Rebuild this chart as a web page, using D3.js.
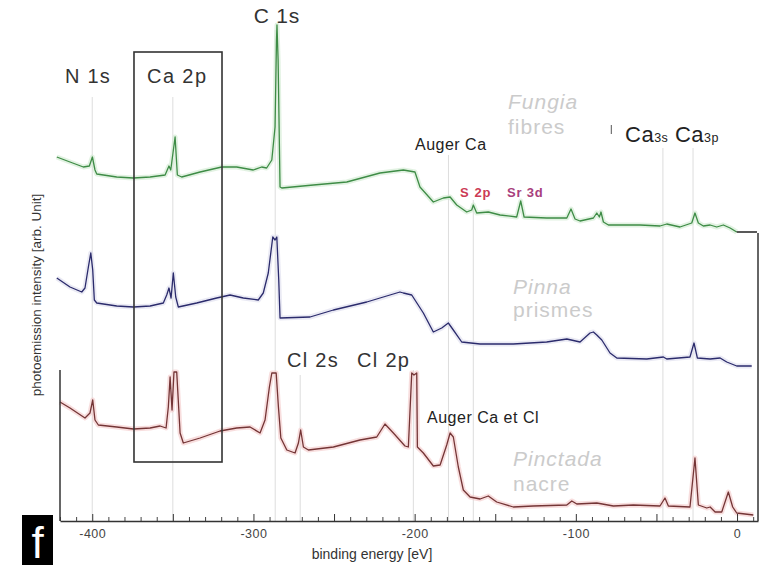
<!DOCTYPE html>
<html>
<head>
  <meta charset="UTF-8">
  <title>XPS survey spectra</title>
  <style>
    body { margin: 0; background: #fff; }
    svg { display: block; font-family: "Liberation Sans", Arial, sans-serif; }
  </style>
</head>
<body>
<svg></svg>

<script src="https://d3js.org/d3.v7.min.js"></script>
<script>

let width = 769, height = 568;

// spectra: [binding energy (eV), intensity (arb. units)]
const fungia = [[-422,364],[-413.8,359],[-405.5,354],[-401.8,355],[-399.9,364],[-398.3,351],[-397.2,347],
  [-384.8,344],[-374.5,343],[-364.1,344],[-354.8,346],[-352.4,355],[-351.3,351],[-348.6,384],[-347.2,346],
  [-344.5,344],[-333.1,349],[-319.7,354],[-310.4,354],[-300.1,351],[-294.9,354],[-291.8,353],[-288.6,361],
  [-286.6,394],[-285.7,481],[-285.4,496],[-284.7,461],[-283.5,334],[-282.4,333],[-262.8,336],[-242.1,339],
  [-221.5,348],[-207.0,351],[-199.8,349],[-196.7,334],[-188.4,319],[-182.2,323],[-178.0,324],[-173.9,316],
  [-167.7,309],[-164.6,311],[-163.6,316],[-161.5,308],[-154.3,309],[-147.0,306],[-136.7,304],[-134.2,320],
  [-132.1,304],[-118.1,303],[-105.6,303],[-103.0,312],[-100.5,302],[-97.4,300],[-89.1,303],[-87.0,308],
  [-85.4,304],[-84.4,309],[-82.9,299],[-79.8,296],[-60.2,296],[-47.8,295],[-43.6,297],[-35.4,294],
  [-28.1,298],[-26.1,308],[-24.0,298],[-20.9,295],[-16.7,296],[-12.6,294],[-8.5,296],[-4.3,293],[-0.2,289]];

const pinna = [[-422,243],[-413.8,234],[-406.5,229],[-404.5,233],[-402.4,254],[-400.9,268],[-399.7,251],
  [-398.7,221],[-397.2,218],[-384.8,215],[-374.5,214],[-364.1,215],[-355.9,218],[-353.8,226],[-352.4,233],
  [-351.1,223],[-349.7,248],[-348.2,224],[-346.6,214],[-335.2,218],[-322.8,223],[-314.5,226],[-306.3,223],
  [-297.0,221],[-293.9,228],[-290.8,248],[-288.0,284],[-286.6,281],[-285.5,284],[-284.3,241],[-283.5,203],
  [-264.9,204],[-250.4,211],[-229.7,219],[-221.5,223],[-209.1,229],[-207.0,228],[-201.8,226],[-194.6,208],
  [-188.4,189],[-183.2,193],[-179.1,198],[-176.0,191],[-170.8,179],[-159.4,177],[-138.8,177],[-118.1,179],
  [-105.6,182],[-97.4,179],[-91.2,188],[-89.1,189],[-87.0,186],[-83.9,181],[-78.8,168],[-74.6,163],
  [-56.0,162],[-45.7,164],[-43.6,162],[-29.2,164],[-26.7,178],[-24.6,163],[-16.7,162],[-10.5,163],
  [-6.4,159],[-0.2,155],[9.1,155]];

const pinctada = [[-420,119],[-413.8,113],[-404.5,103],[-401.4,108],[-399.7,121],[-398.3,101],[-396.2,96],
  [-384.8,94],[-374.5,92],[-364.1,93],[-357.9,95],[-354.2,93],[-352.8,114],[-351.7,144],[-350.5,111],
  [-349.3,149],[-347.6,149],[-345.5,88],[-343.5,78],[-333.1,83],[-320.7,90],[-310.4,93],[-302.1,94],
  [-295.9,88],[-292.8,101],[-290.1,134],[-288.6,148],[-285.9,148],[-284.5,114],[-283.0,83],[-279.3,71],
  [-274.2,68],[-272.1,78],[-270.7,91],[-269.0,74],[-265.9,71],[-250.4,74],[-233.9,81],[-223.5,84],
  [-218.4,97],[-213.2,88],[-206.0,75],[-203.9,74],[-201.8,148],[-200.4,146],[-198.7,148],[-198.3,74],
  [-194.6,68],[-188.4,55],[-184.2,56],[-180.1,76],[-178.0,88],[-176.0,84],[-172.9,54],[-169.8,31],
  [-165.6,24],[-159.4,22],[-154.3,25],[-149.1,19],[-138.8,14],[-126.4,15],[-105.6,16],[-102.5,20],
  [-99.4,17],[-87.0,18],[-76.7,15],[-64.3,16],[-47.8,15],[-44.7,23],[-42.6,15],[-29.2,14],[-26.1,63],
  [-24.0,16],[-18.8,13],[-16.7,14],[-13.6,9],[-9.5,9],[-5.4,29],[-2.7,14],[-0.2,8],[10.1,6]];

// peak reference lines: energy and top of the line
const peakE   = [-400, -350, -286.5, -271, -200.8, -179, -163.6, -46, -27.3];
const peakTop = [424, 424, 491, 146, 151, 366, 321, 373, 373];

// Ca 2p window
const boxE = [-374.1, -319.5];
const boxI = [59, 469];

const tickMajor = d3.range(-400, 1, 50);
const tickMinor = d3.range(-420, 11, 10).filter(d => d % 50 !== 0);

let svg = d3.select("svg")
    .attr("width", width)
    .attr("height", height)
    .style("background", "#fff");

let x = d3.scaleLinear().domain([-420, 13]).range([60, 758]);
let y = d3.scaleLinear().domain([0, 500]).range([521, 21]);

// faint peak lines
svg.append("g")
  .selectAll("line")
  .data(peakE)
  .enter()
  .append("line")
    .attr("x1", d => x(d)).attr("x2", d => x(d))
    .attr("y1", (d, i) => y(peakTop[i]))
    .attr("y2", y(0))
    .attr("stroke", "#d4d4d4")
    .attr("stroke-width", 0.8);

let line = d3.line().x(d => x(d[0])).y(d => y(d[1]));

const series = [
  {data: fungia,   color: "#3e8c46", glow: "#cfe9cf"},
  {data: pinna,    color: "#2b2b6c", glow: "#dcdcec"},
  {data: pinctada, color: "#743536", glow: "#f4c8c8"}
];

series.forEach(s => {
  svg.append("path")
    .attr("d", line(s.data))
    .attr("fill", "none")
    .attr("stroke", s.glow)
    .attr("stroke-width", 5)
    .attr("stroke-linejoin", "round")
    .attr("opacity", 0.6);
  svg.append("path")
    .attr("d", line(s.data))
    .attr("fill", "none")
    .attr("stroke", s.color)
    .attr("stroke-width", 1.3)
    .attr("stroke-linejoin", "round");
});

// Ca 2p box
svg.append("rect")
  .attr("x", x(boxE[0]))
  .attr("y", y(boxI[1]))
  .attr("width", x(boxE[1]) - x(boxE[0]))
  .attr("height", y(boxI[0]) - y(boxI[1]))
  .attr("fill", "none")
  .attr("stroke", "#333")
  .attr("stroke-width", 1.6);

// axis
let axisMinor = d3.axisBottom(x).tickValues(tickMinor).tickSizeInner(-4).tickSizeOuter(0).tickFormat("");
let axisMajor = d3.axisBottom(x).tickValues(tickMajor).tickSizeInner(-7).tickSizeOuter(0).tickPadding(8)
  .tickFormat(d => d % 100 === 0 ? String(d) : "");

svg.append("g").attr("transform", "translate(0," + y(0) + ")").call(axisMinor)
  .call(g => g.select(".domain").remove())
  .selectAll("line").attr("stroke", "#444");
let gx = svg.append("g").attr("transform", "translate(0," + y(0) + ")").call(axisMajor);
gx.select(".domain").attr("stroke", "#333").attr("stroke-width", 1.5);
gx.selectAll("line").attr("stroke", "#333");
gx.selectAll("text").attr("font-size", "12.5px").attr("fill", "#444")
  .attr("letter-spacing", "0.5px")
  .attr("font-family", "Liberation Sans, Arial, sans-serif");

// partial side frame
svg.append("line")
  .attr("x1", x(-420)).attr("x2", x(-420))
  .attr("y1", y(151)).attr("y2", y(0))
  .attr("stroke", "#333").attr("stroke-width", 1.5);
svg.append("line")
  .attr("x1", x(13)).attr("x2", x(13))
  .attr("y1", y(288)).attr("y2", y(0))
  .attr("stroke", "#333").attr("stroke-width", 1.5);
svg.append("line")
  .attr("x1", x(-0.2)).attr("x2", x(12.4))
  .attr("y1", y(289)).attr("y2", y(289))
  .attr("stroke", "#222").attr("stroke-width", 1.5);
svg.append("line")
  .attr("x1", x(-78)).attr("x2", x(-78))
  .attr("y1", y(396)).attr("y2", y(387))
  .attr("stroke", "#555").attr("stroke-width", 1);

// labels
function label(txt, e, i, size, opts) {
  opts = opts || {};
  return svg.append("text")
    .attr("x", x(e))
    .attr("y", y(i))
    .attr("font-size", size + "px")
    .attr("fill", opts.fill || "#333")
    .attr("font-style", opts.italic ? "italic" : null)
    .attr("font-weight", opts.bold ? "bold" : null)
    .attr("letter-spacing", opts.ls ? opts.ls + "px" : null)
    .attr("text-anchor", opts.anchor || "start")
    .text(txt);
}

label("C 1s", -285.4, 498, 21, {anchor: "middle", ls: 0.8});
label("N 1s", -416.9, 438, 20, {ls: 1.2});
label("Ca 2p", -366, 438, 20, {ls: 1.4});
label("Cl 2s", -279.2, 154, 20, {ls: 1.3});
label("Cl 2p", -235.7, 154, 20, {ls: 1.3});
label("Auger Ca", -199.8, 371, 16, {fill: "#222", ls: 0.5});
label("S 2p", -171.8, 324, 13, {fill: "#cc3b55", bold: true, ls: 1});
label("Sr 3d", -142.7, 324, 13, {fill: "#a8407c", bold: true, ls: 0.8});
label("Auger Ca et Cl", -192.3, 98, 16, {fill: "#222", ls: 0.5});

let ca = label("", -69.5, 379, 22, {fill: "#222", ls: 0.5});
ca.append("tspan").text("Ca");
ca.append("tspan").attr("font-size", "12.5px").text("3s");
ca.append("tspan").text(" Ca");
ca.append("tspan").attr("font-size", "12.5px").text("3p");

const grey = "#cbcbcb";
label("Fungia", -142.1, 412, 21, {fill: grey, italic: true, ls: 1});
label("fibres", -142.1, 387, 21, {fill: grey, ls: 1});
label("Pinna", -139, 227, 21, {fill: grey, italic: true, ls: 1});
label("prismes", -139, 204, 21, {fill: grey, ls: 1});
label("Pinctada", -139, 55, 21, {fill: grey, italic: true, ls: 1});
label("nacre", -139, 30, 21, {fill: grey, ls: 1});

svg.append("text")
  .attr("x", 372).attr("y", 559)
  .attr("text-anchor", "middle")
  .attr("font-size", "14px").attr("fill", "#333")
  .text("binding energy [eV]");

svg.append("text")
  .attr("transform", "translate(41,295) rotate(-90)")
  .attr("text-anchor", "middle")
  .attr("font-size", "13.5px").attr("fill", "#333")
  .text("photoemission intensity [arb. Unit]");

// panel letter
svg.append("rect").attr("x", 22).attr("y", 515).attr("width", 31).attr("height", 50).attr("fill", "#000");
svg.append("text")
  .attr("x", 37.5).attr("y", 558)
  .attr("text-anchor", "middle")
  .attr("font-size", "44px").attr("fill", "#fff")
  .text("f");

</script>
</body>
</html>
